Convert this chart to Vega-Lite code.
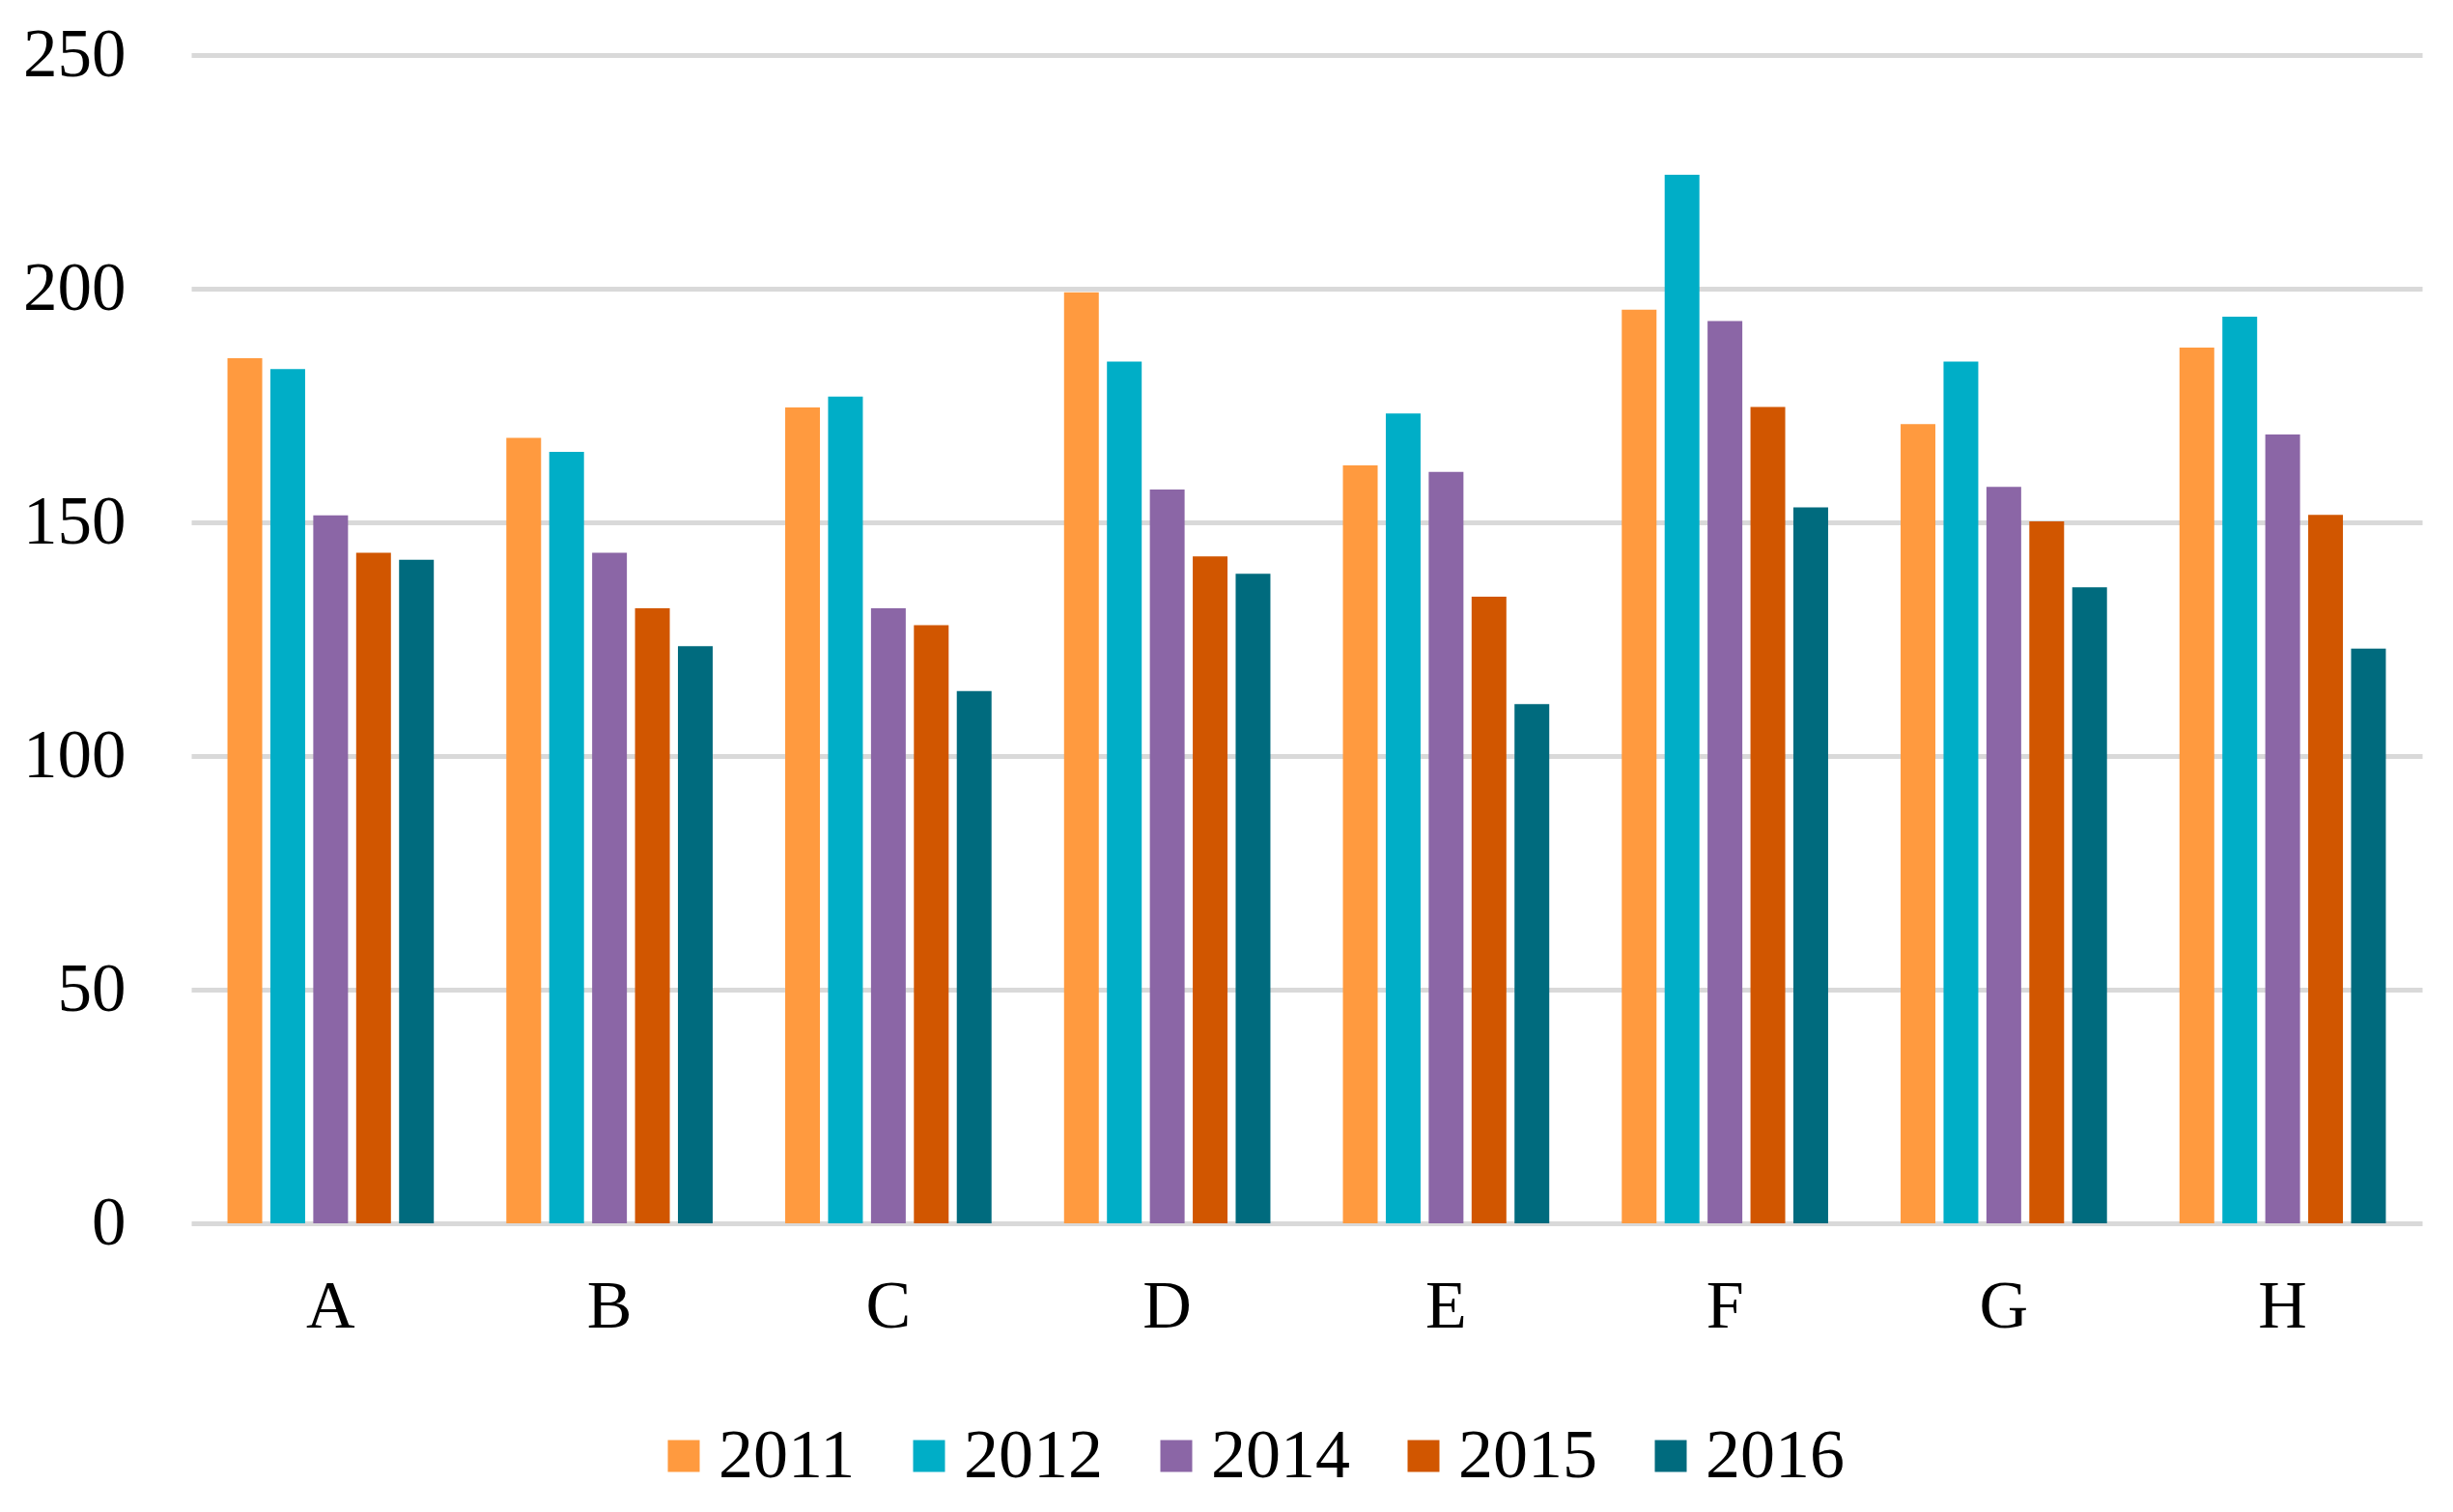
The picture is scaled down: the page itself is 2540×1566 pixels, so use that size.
{
  "$schema": "https://vega.github.io/schema/vega-lite/v6.json",
  "width": 2310,
  "height": 1210,
  "autosize": {"type": "none"},
  "padding": {"left": 198, "top": 57, "right": 32, "bottom": 299},
  "background": "white",
  "data": {
    "values": [
      {"cat": "A", "year": "2011", "value": 185.1},
      {"cat": "A", "year": "2012", "value": 182.8},
      {"cat": "A", "year": "2014", "value": 151.5},
      {"cat": "A", "year": "2015", "value": 143.5},
      {"cat": "A", "year": "2016", "value": 142.0},
      {"cat": "B", "year": "2011", "value": 168.1},
      {"cat": "B", "year": "2012", "value": 165.1},
      {"cat": "B", "year": "2014", "value": 143.5},
      {"cat": "B", "year": "2015", "value": 131.6},
      {"cat": "B", "year": "2016", "value": 123.5},
      {"cat": "C", "year": "2011", "value": 174.6},
      {"cat": "C", "year": "2012", "value": 176.9},
      {"cat": "C", "year": "2014", "value": 131.6},
      {"cat": "C", "year": "2015", "value": 128.0},
      {"cat": "C", "year": "2016", "value": 113.9},
      {"cat": "D", "year": "2011", "value": 199.2},
      {"cat": "D", "year": "2012", "value": 184.4},
      {"cat": "D", "year": "2014", "value": 157.0},
      {"cat": "D", "year": "2015", "value": 142.7},
      {"cat": "D", "year": "2016", "value": 139.0},
      {"cat": "E", "year": "2011", "value": 162.2},
      {"cat": "E", "year": "2012", "value": 173.3},
      {"cat": "E", "year": "2014", "value": 160.8},
      {"cat": "E", "year": "2015", "value": 134.1},
      {"cat": "E", "year": "2016", "value": 111.1},
      {"cat": "F", "year": "2011", "value": 195.5},
      {"cat": "F", "year": "2012", "value": 224.4},
      {"cat": "F", "year": "2014", "value": 193.1},
      {"cat": "F", "year": "2015", "value": 174.7},
      {"cat": "F", "year": "2016", "value": 153.2},
      {"cat": "G", "year": "2011", "value": 171.0},
      {"cat": "G", "year": "2012", "value": 184.4},
      {"cat": "G", "year": "2014", "value": 157.6},
      {"cat": "G", "year": "2015", "value": 150.2},
      {"cat": "G", "year": "2016", "value": 136.1},
      {"cat": "H", "year": "2011", "value": 187.4},
      {"cat": "H", "year": "2012", "value": 194.0},
      {"cat": "H", "year": "2014", "value": 168.8},
      {"cat": "H", "year": "2015", "value": 151.6},
      {"cat": "H", "year": "2016", "value": 123.0}
    ]
  },
  "mark": {"type": "bar"},
  "encoding": {
    "x": {
      "field": "cat",
      "type": "nominal",
      "scale": {"paddingInner": 0.26, "paddingOuter": 0.13},
      "axis": {
        "title": null,
        "labelAngle": 0,
        "domain": false,
        "ticks": false,
        "labelPadding": 52,
        "labelFont": "Liberation Serif",
        "labelFontSize": 70,
        "labelColor": "#000000"
      }
    },
    "xOffset": {
      "field": "year",
      "type": "nominal",
      "scale": {"paddingInner": 0.19, "paddingOuter": 0}
    },
    "y": {
      "field": "value",
      "type": "quantitative",
      "scale": {"domain": [0, 250], "nice": false},
      "axis": {
        "title": null,
        "values": [0, 50, 100, 150, 200, 250],
        "domain": false,
        "ticks": false,
        "grid": true,
        "gridColor": "#D9D9D9",
        "gridWidth": 5,
        "labelPadding": 68,
        "labelFont": "Liberation Serif",
        "labelFontSize": 71,
        "labelColor": "#000000"
      }
    },
    "color": {
      "field": "year",
      "type": "nominal",
      "scale": {
        "domain": ["2011", "2012", "2014", "2015", "2016"],
        "range": ["#FF9A3F", "#00AEC7", "#8B66A6", "#D15600", "#006B7E"]
      },
      "legend": {
        "title": null,
        "orient": "none",
        "direction": "horizontal",
        "legendX": 474,
        "legendY": 1415,
        "symbolType": "square",
        "symbolSize": 1089,
        "symbolStrokeWidth": 0,
        "symbolOpacity": 1,
        "labelFont": "Liberation Serif",
        "labelFontSize": 72,
        "labelColor": "#000000",
        "labelOffset": 0,
        "columnPadding": 40
      }
    }
  },
  "config": {
    "view": {"stroke": null}
  }
}
